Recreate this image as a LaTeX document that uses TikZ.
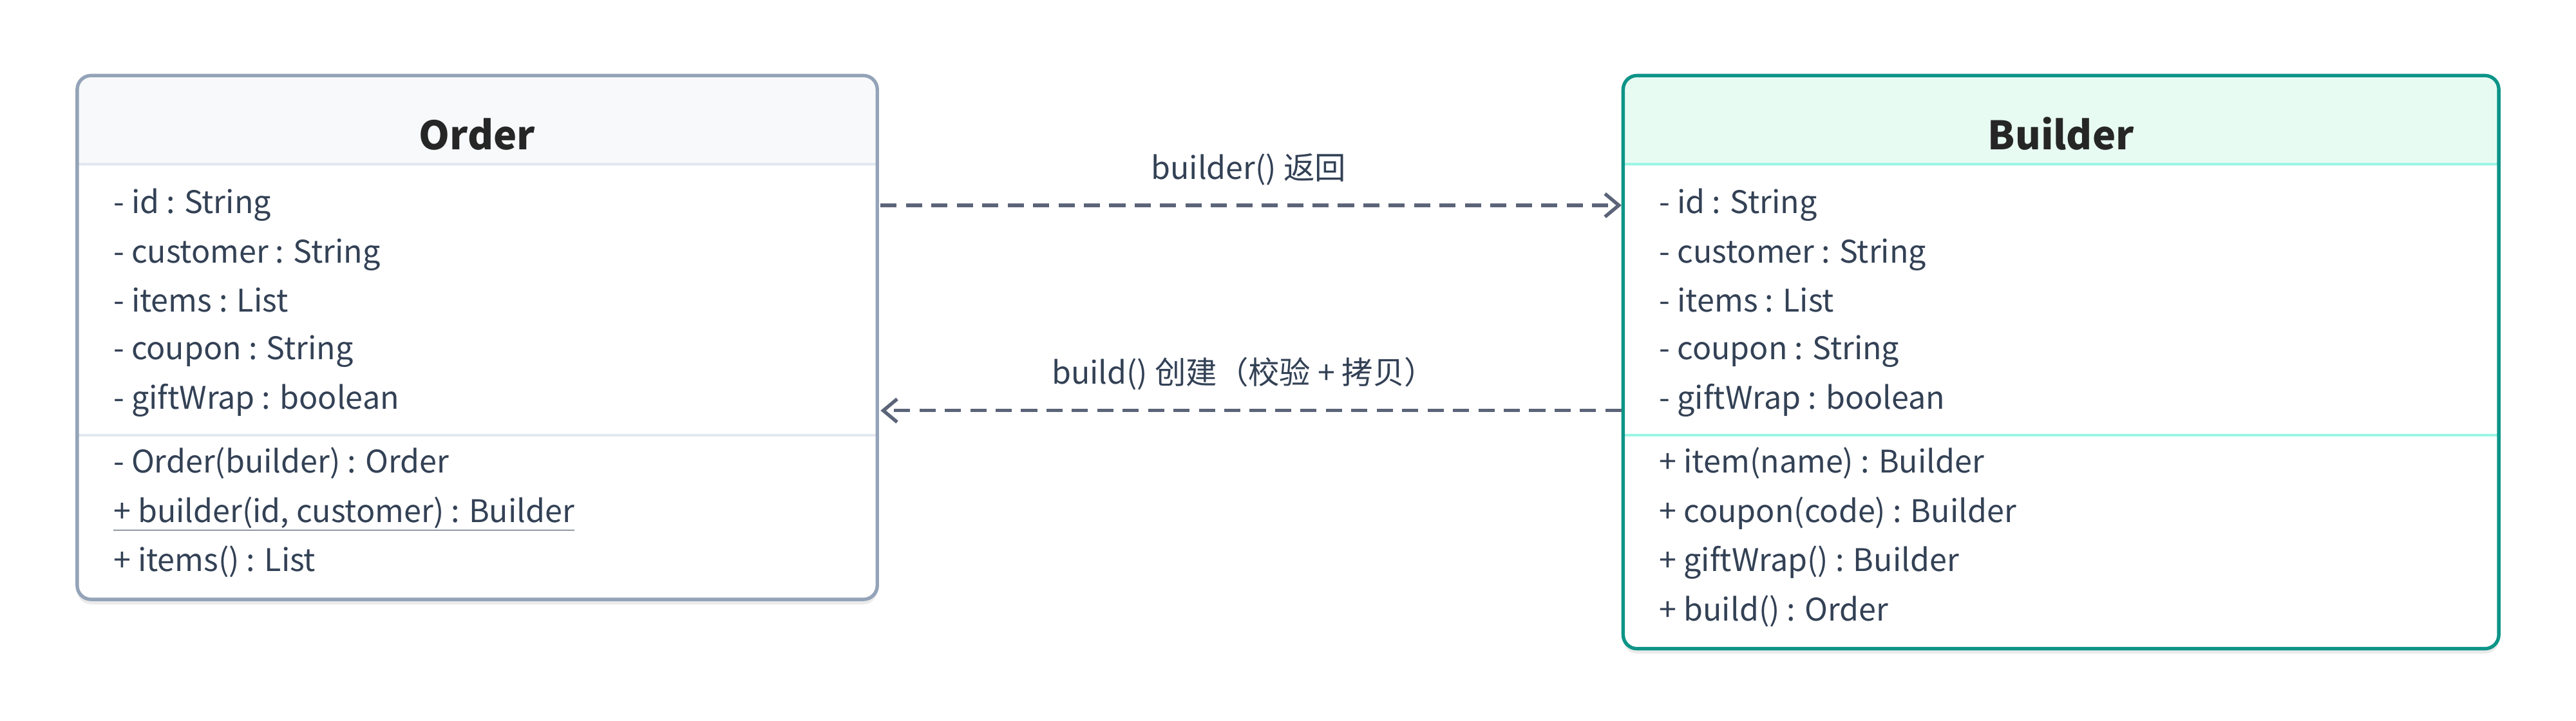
\documentclass[tikz,border=0pt]{standalone}
\usepackage{fontspec}
\setmainfont{Noto Sans CJK SC}
\usetikzlibrary{arrows.meta,shadows}
\definecolor{txt}{HTML}{334155}
\definecolor{ordb}{HTML}{94A3B8}
\definecolor{ordf}{HTML}{F7F9FB}
\definecolor{ordl}{HTML}{E2E8F0}
\definecolor{bldb}{HTML}{0D9488}
\definecolor{bldf}{HTML}{E8FBF3}
\definecolor{bldl}{HTML}{99F6E4}
\definecolor{arr}{HTML}{5B6478}
\begin{document}
\begin{tikzpicture}[x=0.5mm,y=-0.5mm,
  box/.style={rounded corners=12pt,line width=3pt},
  row/.style={anchor=base west,font=\fontsize{27}{30}\selectfont,text=txt,inner sep=0pt},
  ttl/.style={anchor=base,font=\fontsize{34}{38}\selectfont\bfseries,text=black!85},
  conn/.style={arr,line width=3pt,dash pattern=on 14pt off 8pt,-{Straight Barb[length=12pt,width=20pt,line width=3pt]}},
  lbl/.style={anchor=base,font=\fontsize{27}{30}\selectfont,text=txt}]
\useasboundingbox (0,0) rectangle (1568,439);
% Order
\fill[black,opacity=0.08,rounded corners=12pt] (47,48) rectangle (534,368);
\begin{scope}
\clip[rounded corners=12pt] (47,46) rectangle (534,365);
\fill[white] (47,46) rectangle (534,365);
\fill[ordf] (47,46) rectangle (534,100);
\end{scope}
\draw[ordl,line width=2.4pt] (48,100) -- (533,100);
\draw[ordl,line width=2.4pt] (48,265) -- (533,265);
\draw[box,draw=ordb] (47,46) rectangle (534,365);
\node[ttl] (ot) at (290.5,91) {Order};
\node[row] (o1) at (69,130) {- id : String};
\node[row] (o2) at (69,160) {- customer : String};
\node[row] (o3) at (69,190) {- items : List};
\node[row] (o4) at (69,219) {- coupon : String};
\node[row] (o5) at (69,249) {- giftWrap : boolean};
\node[row] (o6) at (69,288) {- Order(builder) : Order};
\node[row] (o7) at (69,318) {\underline{+ builder(id, customer) : Builder}};
\node[row] (o8) at (69,348) {+ items() : List};
% Builder
\fill[black,opacity=0.08,rounded corners=12pt] (988,48) rectangle (1521,398);
\begin{scope}
\clip[rounded corners=12pt] (988,46) rectangle (1521,395);
\fill[white] (988,46) rectangle (1521,395);
\fill[bldf] (988,46) rectangle (1521,100);
\end{scope}
\draw[bldl,line width=2.4pt] (989,100) -- (1520,100);
\draw[bldl,line width=2.4pt] (989,265) -- (1520,265);
\draw[box,draw=bldb] (988,46) rectangle (1521,395);
\node[ttl] (bt) at (1254.5,91) {Builder};
\node[row] (b1) at (1010,130) {- id : String};
\node[row] (b2) at (1010,160) {- customer : String};
\node[row] (b3) at (1010,190) {- items : List};
\node[row] (b4) at (1010,219) {- coupon : String};
\node[row] (b5) at (1010,249) {- giftWrap : boolean};
\node[row] (b6) at (1010,288) {+ item(name) : Builder};
\node[row] (b7) at (1010,318) {+ coupon(code) : Builder};
\node[row] (b8) at (1010,348) {+ giftWrap() : Builder};
\node[row] (b9) at (1010,378) {+ build() : Order};
% connectors
\coordinate (a1s) at (536,125);
\coordinate (a1e) at (987,125);
\coordinate (a2s) at (987,250);
\coordinate (a2e) at (536,250);
\draw[conn] (a1s) -- (a1e);
\draw[conn] (a2s) -- (a2e);
\node[lbl] (l1) at (760,109) {builder() 返回};
\node[lbl] (l2) at (757,234) {build() 创建（校验 + 拷贝）};
\end{tikzpicture}
\end{document}
